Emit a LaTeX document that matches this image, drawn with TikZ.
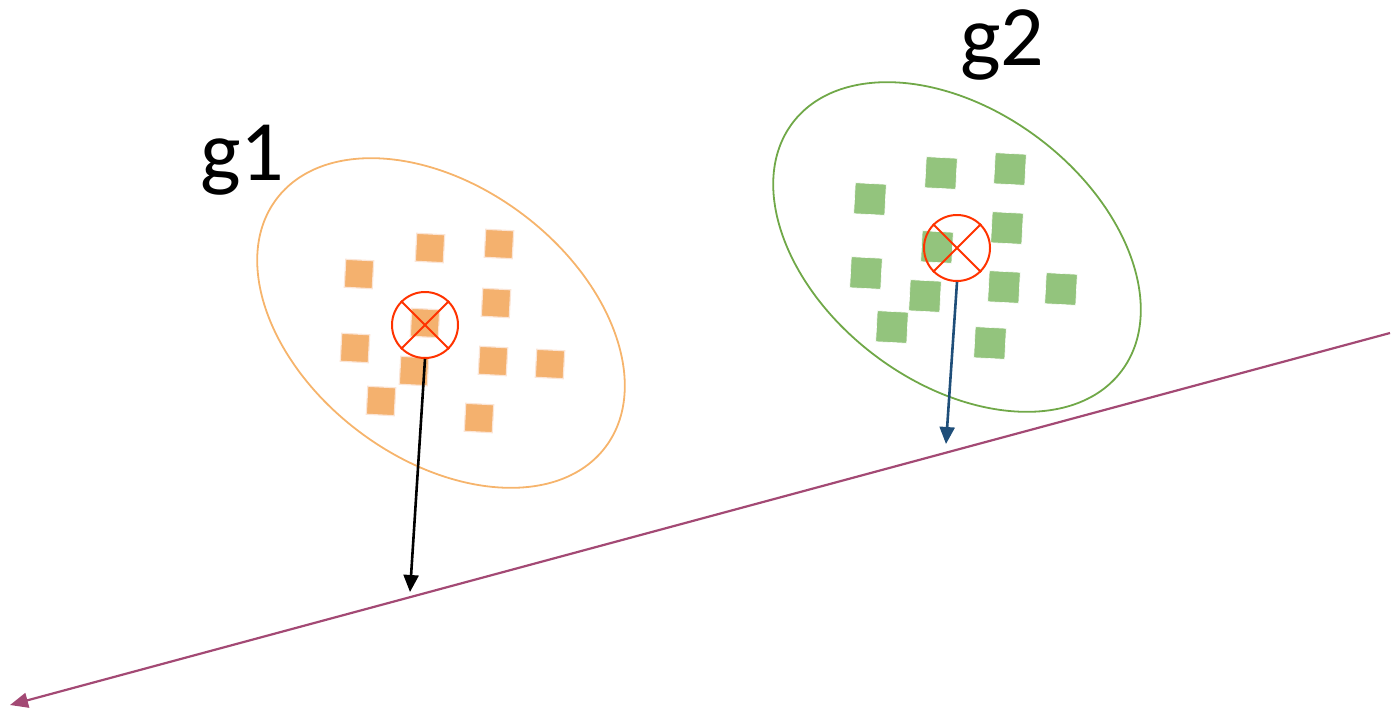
\documentclass[tikz,border=0pt]{standalone}
\usepackage{fontspec}
\setmainfont{Carlito}
\usetikzlibrary{arrows.meta}
\usetikzlibrary{shapes.geometric}

\definecolor{orangefill}{RGB}{244,177,110}
\definecolor{orangeline}{RGB}{246,180,108}
\definecolor{orangeedge}{RGB}{251,229,214}
\definecolor{greenfill}{RGB}{147,196,125}
\definecolor{greenline}{RGB}{112,168,72}
\definecolor{centerred}{RGB}{255,51,0}
\definecolor{arrowblue}{RGB}{31,78,121}
\definecolor{axispurple}{RGB}{163,73,116}

\tikzset{
    orangesq/.style={draw=orangeedge,line width=1.2pt,fill=orangefill,minimum size=28pt,inner sep=0pt,rotate=-3},
    greensq/.style={draw=white,line width=0.6pt,fill=greenfill,minimum size=31pt,inner sep=0pt,rotate=-3},
    centroid/.style={circle,draw=centerred,line width=2pt,minimum size=66pt,inner sep=0pt},
    grouplabel/.style={anchor=base west,inner sep=0pt,font=\fontsize{86}{96}\selectfont}
}

\begin{document}
\begin{tikzpicture}[x=1pt,y=-1pt]
\useasboundingbox (0,0) rectangle (1396,712);

% clusters
\draw[orangeline,line width=1.8pt,rotate around={-37:(441,323)}] (441,323) ellipse [x radius=206pt,y radius=136pt];
\draw[greenline,line width=1.8pt,rotate around={-37:(957,247)}] (957,247) ellipse [x radius=206pt,y radius=136pt];

\node[grouplabel] (lbl1) at (200,180) {g1};
\node[grouplabel] (lbl2) at (960,65)  {g2};

\begin{scope}[every node/.style={orangesq}]
    \node (o1)  at (359,274) {};
    \node (o2)  at (430,248) {};
    \node (o3)  at (499,244) {};
    \node (o4)  at (496,303) {};
    \node (o5)  at (425,323) {};
    \node (o6)  at (355,348) {};
    \node (o7)  at (493,361) {};
    \node (o8)  at (550,364) {};
    \node (o9)  at (414,371) {};
    \node (o10) at (381,401) {};
    \node (o11) at (479,418) {};
\end{scope}

\begin{scope}[every node/.style={greensq}]
    \node (q1)  at (870,199)  {};
    \node (q2)  at (941,173)  {};
    \node (q3)  at (1010,169) {};
    \node (q4)  at (1007,228) {};
    \node (q5)  at (937,247)  {};
    \node (q6)  at (866,273)  {};
    \node (q7)  at (1004,287) {};
    \node (q8)  at (1061,289) {};
    \node (q9)  at (925,296)  {};
    \node (q10) at (892,327)  {};
    \node (q11) at (990,343)  {};
\end{scope}

% centres
\node[centroid] (c1) at (425,325) {};
\node[centroid] (c2) at (957,248) {};
\draw[centerred,line width=2pt] (c1.north west) -- (c1.south east) (c1.north east) -- (c1.south west);
\draw[centerred,line width=2pt] (c2.north west) -- (c2.south east) (c2.north east) -- (c2.south west);

% projection line
\coordinate (axisR) at (1390,333);
\coordinate (axisL) at (10,705);
\coordinate (p1) at (410,592);
\coordinate (p2) at (946,444);

\draw[axispurple,line width=2.2pt,-{Triangle[length=18pt,width=15pt]}] (axisR) -- (axisL);
\draw[black,line width=2.6pt,-{Triangle[length=17pt,width=15pt]}] (c1.south) -- (p1);
\draw[arrowblue,line width=2.6pt,-{Triangle[length=17pt,width=15pt]}] (c2.south) -- (p2);
\end{tikzpicture}
\end{document}
